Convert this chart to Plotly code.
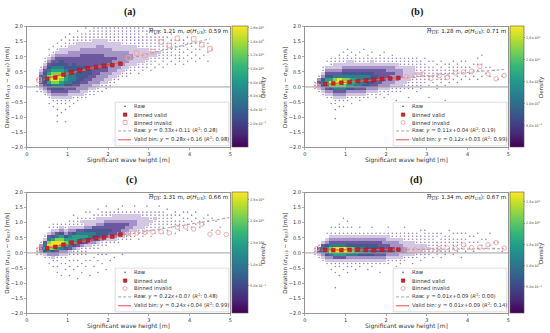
import plotly.graph_objects as go

W, H = 550, 333

# ------------------------------------------------------------------ data
bin_valid_x = [0.5, 0.7, 0.9, 1.1, 1.3, 1.5, 1.7, 1.9, 2.1, 2.3]
bin_invalid_x_a = [0.3, 2.5, 2.7, 2.9, 3.1, 3.3, 3.5, 3.7, 4.1, 4.3, 4.5]
bin_invalid_x = [0.3, 2.5, 2.7, 2.9, 3.1, 3.3, 3.5, 3.7, 3.9, 4.1, 4.3, 4.5, 4.7, 4.9]

valid_y_a = [0.27, 0.31, 0.41, 0.48, 0.55, 0.62, 0.66, 0.70, 0.72, 0.77]
invalid_y_a = [0.23, 0.96, 1.12, 1.04, 1.17, 1.49, 1.37, 1.61, 1.59, 1.40, 1.26]
valid_y_b = [0.10, 0.12, 0.14, 0.16, 0.19, 0.21, 0.23, 0.26, 0.28, 0.30]
invalid_y_b = [0.05, 0.34, 0.38, 0.43, 0.28, 0.37, 0.31, 0.46, 0.49, 0.52, 0.68, 0.43, 0.27, 0.38]
valid_y_c = [0.16, 0.20, 0.27, 0.34, 0.38, 0.42, 0.49, 0.51, 0.54, 0.61]
invalid_y_c = [0.13, 0.64, 0.66, 0.68, 0.69, 0.70, 0.66, 0.85, 0.86, 0.79, 0.95, 0.62, 0.68, 0.61]
valid_y_d = [0.10, 0.09, 0.09, 0.10, 0.11, 0.10, 0.09, 0.11, 0.11, 0.11]
invalid_y_d = [0.14, 0.11, 0.10, 0.09, 0.08, 0.14, 0.17, 0.15, 0.27, 0.18, 0.19, 0.27, 0.34, 0.16]

# fits: slope, intercept, R^2 (raw and valid-bin), x-extent of the lines
raw_fit = {"a": (0.33, 0.11, "0.28"), "b": (0.11, 0.04, "0.19"),
           "c": (0.22, 0.07, "0.48"), "d": (0.01, 0.09, "0.00")}
valid_fit = {"a": (0.28, 0.16, "0.98"), "b": (0.12, 0.03, "0.99"),
             "c": (0.24, 0.04, "0.99"), "d": (0.01, 0.09, "0.14")}
raw_fit_xrange = {"a": [0.3, 4.5], "b": [0.3, 4.9], "c": [0.3, 5.0], "d": [0.3, 4.9]}
valid_fit_xrange = [0.5, 2.3]

stats_mean = {"a": "1.21", "b": "1.28", "c": "1.31", "d": "1.34"}
stats_std = {"a": "0.59", "b": "0.71", "c": "0.66", "d": "0.67"}

cbar_ticks_a = [0.2, 0.4, 0.6, 0.8, 1.0, 1.2, 1.4, 1.6]
cbar_text_a = ["2.0×10<sup>−1</sup>", "4.0×10<sup>−1</sup>", "6.0×10<sup>−1</sup>",
               "8.0×10<sup>−1</sup>", "1.0×10<sup>0</sup>", "1.2×10<sup>0</sup>",
               "1.4×10<sup>0</sup>", "1.6×10<sup>0</sup>"]
cbar_ticks_bcd = [0.5, 1.0, 1.5, 2.0, 2.5]
cbar_text_bcd = ["5.0×10<sup>−1</sup>", "1.0×10<sup>0</sup>", "1.5×10<sup>0</sup>",
                 "2.0×10<sup>0</sup>", "2.5×10<sup>0</sup>"]
cbar_range = {"a": (-0.15, 1.62), "b": (0.0, 2.76), "c": (-0.14, 2.67), "d": (-0.12, 2.72)}

# Density of raw points: one string per 0.1 m column of
# wave height (0.0 .. 5.0); each string runs from deviation -2.0 to 2.0 in
# 0.1 steps (4 groups of 10).  '.' = no points, 1..9 = increasing density.
density_a = [
    "", "",
    ".......... ........1. 1.1....... ..........",
    ".......... ........12 3444321... ..........",
    ".......... .......123 4566543211 ..........",
    ".......... ....1.1234 5788765432 1.1.......",
    ".......... ...1.12345 6899876543 21.1......",
    "........1. 1.1.112345 6899876544 321.1.....",
    ".......... .1..112345 6789876554 3221.1....",
    "........1. ..1.112344 5677765544 32211.1...",
    ".......... ...1.12234 5666655444 332211.1..",
    ".......... ....1.1234 4566655544 3322111...",
    ".......... .....11233 4555555444 3322211.1.",
    ".......... ......1223 3455555444 43322111..",
    ".......... ......1123 3445555444 43322111.1",
    ".......... .......112 3344554444 433221111.",
    ".......... .......112 2334444444 4332221111",
    ".......... ........11 2333444444 4333221111",
    ".......... ........1. 1233344444 4333221111",
    ".......... .........1 1223344444 3332221111",
    ".......... .......... 1122333444 3332211111",
    ".......... .......... .112233334 3322211111",
    ".......... .......... ..11223333 3322211111",
    ".......... .......... ...1122333 3322111111",
    ".......... .......... ...1112233 3322111111",
    ".......... .......... ....111223 3222111111",
    ".......... .......... .....11222 2222111111",
    ".......... .......... ....1.1122 2221111111",
    ".......... .......... .....11122 2221111.11",
    ".......... .......... ......1112 222111111.",
    ".......... .......... .....1.111 2211111.1.",
    ".......... .......... ......1.11 22111111..",
    ".......... .......... .......1.1 1211111.1.",
    ".......... .......... ......1.11 1111111...",
    ".......... .......... .......1.1 11111.1...",
    ".......... .......... ........1. 111111.1..",
    ".......... .......... .......1.1 1.1111....",
    ".......... .......... ........11 1111.1....",
    ".......... .......... .......1.1 .1.111....",
    ".......... .......... ........1. 1.1.1.1...",
    ".......... .......... .........1 .1.11.....",
    ".......... .......... ........1. 1.1.1.....",
    ".......... .......... .........1 ..1.1.....",
    ".......... .......... .......... 1..1......",
    ".......... .......... ........1. .1..1.....",
    ".......... .......... .......... ..1.......",
    "", "", "", "",
]

density_b = [
    "", "",
    ".......... .........1 11........ ..........",
    ".......... ........12 3431...... ..........",
    ".......... .......123 5653211... ..........",
    ".......... ......1234 6775432.1. ..........",
    ".......... ....1.1235 8975432111 ..........",
    ".........1 ..1.112346 8986432211 ..........",
    ".......... ...1.12346 8996432211 1.........",
    ".......... ...1.12346 8986543211 .1........",
    ".......... .....11235 7886543221 1.1.......",
    ".......... ....1.1235 7776543221 .1........",
    ".......... ......1234 6776543211 1.........",
    ".......... .....11234 6666543211 .1........",
    ".......... ......1234 5666543211 ..1.......",
    ".......... ......1123 5556543211 1.........",
    ".......... .......123 4555543221 .1........",
    ".......... ......1123 4455443211 ..........",
    ".......... .......112 3444443211 1.........",
    ".......... ......1.12 3344443211 .1........",
    ".......... .......112 3334433211 ..........",
    ".......... ........11 2333433211 1.........",
    ".......... .....1..11 2233332211 ..........",
    ".......... ........11 2223332111 ..........",
    ".......... .........1 1222222111 ..........",
    ".......... ......1..1 1122222111 ..........",
    ".......... .........1 1112222111 ..........",
    ".......... ........1. 1111211111 ..........",
    ".......... .........1 111121111. ..........",
    ".......... .......... .1111111.1 ..........",
    ".......... ......1... 1.11111.1. ..........",
    ".......... .......... .1.1111.1. ..........",
    ".......... .........1 1.1111.1.. ..........",
    ".......... .......... .11.111.1. ..........",
    ".......... .....1.... 1.1111.1.. ..........",
    ".......... .......... .1.11111.. ..........",
    ".......... .......... ..1.111.1. ..........",
    ".......... .......... .1.1.111.. ..........",
    ".......... .......... ..1.1.1.1. ..........",
    ".......... .......... ...1.11.1. ..........",
    ".......... .......... ..1.1.1... ..........",
    ".......... .......... ...1.1.1.. ..........",
    ".......... .......... ..1..1.1.1 ..........",
    ".......... .......... ...1.1.1.. 1.........",
    ".......... .......... ....1.1... ..........",
    ".......... .......... ...1..1... ..........",
    ".......... .......... .....1.... ..........",
    ".......... .......... ..1....... ..........",
    ".......... .......... ...1...... ..........",
    "",
]

density_c = [
    "", "",
    ".......... .........1 11........ ..........",
    ".......... .........1 3431...... ..........",
    ".......... ........12 576421.... ..........",
    ".......... ......1.13 6898642.1. ..........",
    ".......... .....1.123 5899753211 ..........",
    ".......... ...1.1.113 4799864211 ..........",
    ".......... ..1...1.12 3689875321 ..........",
    ".......... ....1.1.12 3578753211 ..........",
    ".......... ..1..1.1.1 2467764321 1.........",
    ".......... ....1..1.1 1357775321 1.1.......",
    ".......... .1...1.1.1 1246776421 11........",
    ".......... ...1..1..1 1135676421 21........",
    ".......... .....1.1.1 1124676532 21.1......",
    ".......... ..1....1.. .123566532 21.1......",
    ".......... .....1..1. .113556542 211.......",
    ".......... ...1...1.1 .112455543 221.1.....",
    ".......... ......1..1 ..11345543 2211......",
    ".......... ....1....1 ..11245544 3211.1....",
    ".......... .......1.. ...1234544 3211......",
    ".......... ........1. ...1234444 3221......",
    ".......... .......... ...1123444 32211.....",
    ".......... .........1 ....123344 3221.1....",
    ".......... .......... ....112334 3221......",
    ".......... .......... ....111233 3221......",
    ".......... .......... .....11223 3221.1....",
    ".......... .......... ....1.1122 2221......",
    ".......... .......... .....11122 2211......",
    ".......... .......... ......1112 2211.1....",
    ".......... .......... .....1.111 2111......",
    ".......... .......... ......1.11 1211......",
    ".......... .......... .......111 1111.1....",
    ".......... .......... ......1.11 1111......",
    ".......... .......... .......1.1 111.1.....",
    ".......... .......... ........11 111.......",
    ".......... .......... ......1..1 1.11......",
    ".......... .......... .......1.1 1.1.......",
    ".......... .......... ........1. 11.1......",
    ".......... .......... .......1.1 .1.1......",
    ".......... .......... ........1. 1.1.......",
    ".......... .......... .........1 .1.1......",
    ".......... .......... ........1. 1.........",
    ".......... .......... .........1 .1........",
    ".......... .......... .......... 1.1.......",
    ".......... .......... .......1.. .1........",
    ".......... .......... .......... 1.........",
    ".......... .......... ........1. ..........",
    ".......... .......... .......... .1........",
    "",
]

density_d = [
    "", "",
    ".......... .........1 11........ ..........",
    ".......... ........12 441....... ..........",
    ".......... .......123 6642...... ..........",
    ".......... ......1235 77532.1... ..........",
    ".......... ....1.1236 9864321.1. ..........",
    "........1. ...1.11247 9964321.1. ..........",
    ".......... ..1..11247 9964321.11 ..........",
    ".......... ....1.1247 9964321.1. .1........",
    ".......... ...1.11236 9854321.1. 1.........",
    ".......... .....11236 8854321.1. ..........",
    ".......... ....1.1236 7754321... ..........",
    ".......... .....11235 7654321.1. ..........",
    ".......... ......1235 6654321... ..........",
    ".......... ....1.1235 6554321... ..........",
    ".......... .....11235 5554321.1. ..........",
    ".......... ......1234 5554321... ..........",
    ".......... ...1..1234 5544321... ..........",
    ".......... ......1234 5443321... ..........",
    ".......... ......1123 4443221.1. ..........",
    ".......... .......123 4433211... ..........",
    ".......... .....1.123 3333211... ..........",
    ".......... ......1122 3332211... ..........",
    ".......... .......112 3322111.1. ..........",
    ".......... ........12 2222111... ..........",
    ".......... ......1.12 2222111... ..........",
    ".......... ........11 2221111... ..........",
    ".......... .......1.1 222111.1.. ..........",
    ".......... ........11 12211111.. ..........",
    ".......... .........1 1211111... ..........",
    ".......... ........1. 1111111... ..........",
    ".......... .........1 1111.11... ..........",
    ".......... ........1. 11111.1... ..........",
    ".......... .........1 1.1111.... ..........",
    ".......... .......... 11.111.1.. ..........",
    ".......... .........1 .1111.1... ..........",
    ".......... .......... 1.111.1... ..........",
    ".......... ........1. .1.11.1... ..........",
    ".......... .......... 1.1.1.1... ..........",
    ".......... .......... .1.1.1.... ..........",
    ".......... .......... 1..1.1.... ..........",
    ".......... .......... .1.1..1... ..........",
    ".......... .......... ..1.1..... ..........",
    ".......... .......... .1..1..... ..........",
    ".......... .......... ..1...1... ..........",
    ".......... .......... .1.1...... ..........",
    ".......... .......... ...1...... ..........",
    ".......... .......... 1......... ..........",
    "",
]

# colours of density levels 2..9 (level 1 is drawn as single dots)
LEVEL_COLORS = ["#d3c8e4", "#a592c6", "#6d589e", "#43598f", "#2e7f8e",
                "#26a385", "#7fd34e", "#ece51f"]
SPARSE_COLOR = "#6b4d9e"


def parse_density(cols):
    grid = []
    for s in cols:
        s = s.replace(" ", "")
        s = (s + "." * 40)[:40]
        grid.append([int(ch) if ch.isdigit() else None for ch in s])
    return grid  # grid[column][row]


NL = len(LEVEL_COLORS)
level_scale = []
for k, col in enumerate(LEVEL_COLORS):
    level_scale.append([k / NL, col])
    level_scale.append([(k + 1) / NL, col])

# ------------------------------------------------------------------ layout geometry
FONT = "DejaVu Sans"
AX_COLOR = "#7a7a7a"
panels = [
    dict(k="a", xa="x", ya="y", L=25, R=230, T=24, B=147, cbw=16, tx=129, ty=9,
         dens=density_a, vy=valid_y_a, ix=bin_invalid_x_a, iy=invalid_y_a,
         isym="square-open", ct=cbar_ticks_a, ctt=cbar_text_a),
    dict(k="b", xa="x2", ya="y2", L=305, R=510, T=24, B=147, cbw=14, tx=418, ty=9,
         dens=density_b, vy=valid_y_b, ix=bin_invalid_x, iy=invalid_y_b,
         isym="circle-open", ct=cbar_ticks_bcd, ctt=cbar_text_bcd),
    dict(k="c", xa="x3", ya="y3", L=25, R=230, T=193, B=316, cbw=16, tx=130, ty=180,
         dens=density_c, vy=valid_y_c, ix=bin_invalid_x, iy=invalid_y_c,
         isym="circle-open", ct=cbar_ticks_bcd, ctt=cbar_text_bcd),
    dict(k="d", xa="x4", ya="y4", L=305, R=510, T=193, B=316, cbw=14, tx=417, ty=180,
         dens=density_d, vy=valid_y_d, ix=bin_invalid_x, iy=invalid_y_d,
         isym="circle-open", ct=cbar_ticks_bcd, ctt=cbar_text_bcd),
]


def PX(p):
    return p / W


def PY(p):
    return 1 - p / H


def note(x, y, text, size, **kw):
    d = dict(xref="paper", yref="paper", x=PX(x), y=PY(y), text=text,
             showarrow=False, xanchor="center", yanchor="middle", borderpad=0,
             font=dict(family=kw.pop("family", FONT), size=size,
                       color=kw.pop("color", "#333")))
    d.update(kw)
    return d


fig = go.Figure()
shapes, annotations = [], []
layout_axes = {}

for i, p in enumerate(panels):
    k = p["k"]
    xa, ya = p["xa"], p["ya"]
    grid = parse_density(p["dens"])
    ncol = len(grid)
    # cloud (levels 2..9) as a heatmap
    z = [[(grid[c][r] if (grid[c][r] or 0) >= 2 else None) for c in range(ncol)]
         for r in range(40)]
    fig.add_trace(go.Heatmap(
        z=z, x0=0.05, dx=0.1, y0=-1.95, dy=0.1,
        colorscale=level_scale, zmin=1.5, zmax=9.5, showscale=False,
        hoverinfo="skip", xaxis=xa, yaxis=ya))
    # sparsest part of the cloud (level 1) as individual dots
    sx, sy = [], []
    for c in range(ncol):
        for r in range(40):
            if grid[c][r] == 1:
                sx.append(0.05 + 0.1 * c)
                sy.append(-1.95 + 0.1 * r)
    fig.add_trace(go.Scatter(x=sx, y=sy, mode="markers",
                             marker=dict(size=1.6, color=SPARSE_COLOR, opacity=0.7,
                                         line=dict(width=0)),
                             hoverinfo="skip", xaxis=xa, yaxis=ya))
    # zero line
    fig.add_trace(go.Scatter(x=[0, 5], y=[0, 0], mode="lines",
                             line=dict(color="#a0a0a0", width=1),
                             hoverinfo="skip", xaxis=xa, yaxis=ya))
    # raw fit
    s, b0, _ = raw_fit[k]
    rx = raw_fit_xrange[k]
    fig.add_trace(go.Scatter(x=rx, y=[s * v + b0 for v in rx], mode="lines",
                             line=dict(color="#9a9a9a", width=0.9, dash="3px,2px"),
                             hoverinfo="skip", xaxis=xa, yaxis=ya))
    # invalid bins
    fig.add_trace(go.Scatter(x=p["ix"], y=p["iy"], mode="markers",
                             marker=dict(symbol=p["isym"], size=4.5, color="#f2a0a0",
                                         line=dict(color="#f2a0a0", width=0.9)),
                             xaxis=xa, yaxis=ya))
    # valid fit
    s, b0, _ = valid_fit[k]
    fig.add_trace(go.Scatter(x=valid_fit_xrange, y=[s * v + b0 for v in valid_fit_xrange],
                             mode="lines", line=dict(color="#f05a5a", width=1.1),
                             hoverinfo="skip", xaxis=xa, yaxis=ya))
    # valid bins
    fig.add_trace(go.Scatter(x=bin_valid_x, y=p["vy"], mode="markers",
                             marker=dict(symbol="square", size=3.8, color="#d62020",
                                         line=dict(color="#8b1010", width=0.4)),
                             xaxis=xa, yaxis=ya))
    # colorbar carrier
    cmin, cmax = cbar_range[k]
    fig.add_trace(go.Scatter(
        x=[None, None], y=[None, None], mode="markers", xaxis=xa, yaxis=ya,
        marker=dict(color=[cmin, cmax], cmin=cmin, cmax=cmax, colorscale="Viridis",
                    showscale=True,
                    colorbar=dict(x=PX(p["R"] + 2), xanchor="left", xpad=0, ypad=0,
                                  y=PY((p["T"] + p["B"]) / 2), yanchor="middle",
                                  len=(p["B"] - p["T"]) / H, lenmode="fraction",
                                  thickness=p["cbw"], thicknessmode="pixels",
                                  outlinewidth=0.6, outlinecolor="#555",
                                  tickvals=p["ct"], ticktext=p["ctt"],
                                  ticks="outside", ticklen=1.5, tickwidth=0.5,
                                  tickcolor="#555",
                                  tickfont=dict(size=3.4, color="#444", family=FONT))),
        hoverinfo="skip"))

    # axes
    xkey = "xaxis" + xa[1:]
    ykey = "yaxis" + ya[1:]
    common = dict(showline=True, mirror=True, linecolor=AX_COLOR, linewidth=0.8,
                  ticks="outside", ticklen=2, tickwidth=0.6, tickcolor=AX_COLOR,
                  tickfont=dict(size=5, color="#333", family=FONT),
                  showgrid=False, zeroline=False, fixedrange=True)
    layout_axes[xkey] = dict(domain=[PX(p["L"]), PX(p["R"])], range=[0, 5],
                             tick0=0, dtick=1, anchor=ya, **common)
    layout_axes[ykey] = dict(domain=[PY(p["B"]), PY(p["T"])], range=[-2, 2],
                             tick0=-2, dtick=0.5, tickformat=".1f", anchor=xa, **common)

    # texts
    cx = (p["L"] + p["R"]) / 2
    cy = (p["T"] + p["B"]) / 2
    annotations += [
        note(p["tx"], p["ty"], "<b>(" + k + ")</b>", 10,
             family="Liberation Serif", color="#111"),
        note(cx, p["B"] + 13, "Significant wave height [m]", 6),
        note(p["L"] - 19, cy,
             "Deviation (<i>σ</i><sub>H1/3</sub> − <i>σ</i><sub>REF</sub>) [m/s]",
             5.6, textangle=-90),
        note(p["R"] + 34, cy, "Density", 5.6, textangle=-90),
        note(p["R"] - 1.5, p["T"] + 5,
             "<span style='text-decoration:overline'><i>H</i><sub>1/3</sub></span>: "
             + stats_mean[k] + " m, <i>σ</i>(<i>H</i><sub>1/3</sub>): "
             + stats_std[k] + " m", 5.6, xanchor="right", color="#222"),
    ]

    # legend (drawn by hand, lower right of each panel)
    R, B = p["R"], p["B"]
    shapes.append(dict(type="rect", xref="paper", yref="paper",
                       x0=PX(R - 116), x1=PX(R - 1.5), y0=PY(B - 1.5), y1=PY(B - 46),
                       fillcolor="rgba(255,255,255,0.85)",
                       line=dict(color="#cfcfcf", width=0.7), layer="above"))
    rows = [B - 41.7, B - 33.3, B - 25.3, B - 16.7, B - 7.7]
    kx = R - 106
    shapes.append(dict(type="circle", xref="paper", yref="paper",
                       x0=PX(kx - 0.8), x1=PX(kx + 0.8), y0=PY(rows[0] - 0.8),
                       y1=PY(rows[0] + 0.8), fillcolor="#5b3f8f",
                       line=dict(width=0), layer="above"))
    shapes.append(dict(type="rect", xref="paper", yref="paper",
                       x0=PX(kx - 1.8), x1=PX(kx + 1.8), y0=PY(rows[1] - 1.8),
                       y1=PY(rows[1] + 1.8), fillcolor="#d62020",
                       line=dict(color="#8b1010", width=0.4), layer="above"))
    shapes.append(dict(type="rect" if k == "a" else "circle", xref="paper", yref="paper",
                       x0=PX(kx - 2), x1=PX(kx + 2), y0=PY(rows[2] - 2),
                       y1=PY(rows[2] + 2), fillcolor="rgba(0,0,0,0)",
                       line=dict(color="#f2a0a0", width=0.9), layer="above"))
    shapes.append(dict(type="line", xref="paper", yref="paper",
                       x0=PX(R - 113), x1=PX(R - 100), y0=PY(rows[3]), y1=PY(rows[3]),
                       line=dict(color="#9a9a9a", width=0.9, dash="3px,2px"),
                       layer="above"))
    shapes.append(dict(type="line", xref="paper", yref="paper",
                       x0=PX(R - 113), x1=PX(R - 100), y0=PY(rows[4]), y1=PY(rows[4]),
                       line=dict(color="#f05a5a", width=1.1), layer="above"))
    rs, rb, rr2 = raw_fit[k]
    vs, vb, vr2 = valid_fit[k]
    labels = [
        "Raw", "Binned valid", "Binned invalid",
        "Raw: <i>y</i> = %.2f<i>x</i>+%.2f (<i>R</i><sup>2</sup>: %s)" % (rs, rb, rr2),
        "Valid bin: <i>y</i> = %.2f<i>x</i>+%.2f (<i>R</i><sup>2</sup>: %s)" % (vs, vb, vr2),
    ]
    for yy, lab in zip(rows, labels):
        annotations.append(note(R - 98, yy, lab, 5.3, xanchor="left"))

fig.update_layout(
    width=W, height=H, margin=dict(l=0, r=0, t=0, b=0),
    paper_bgcolor="white", plot_bgcolor="white", showlegend=False,
    font=dict(family=FONT), shapes=shapes, annotations=annotations, **layout_axes)

fig.write_html("out.html", config={"displayModeBar": False, "staticPlot": True},
               post_script="document.body.style.margin='0';"
                           "document.body.style.padding='0';")
